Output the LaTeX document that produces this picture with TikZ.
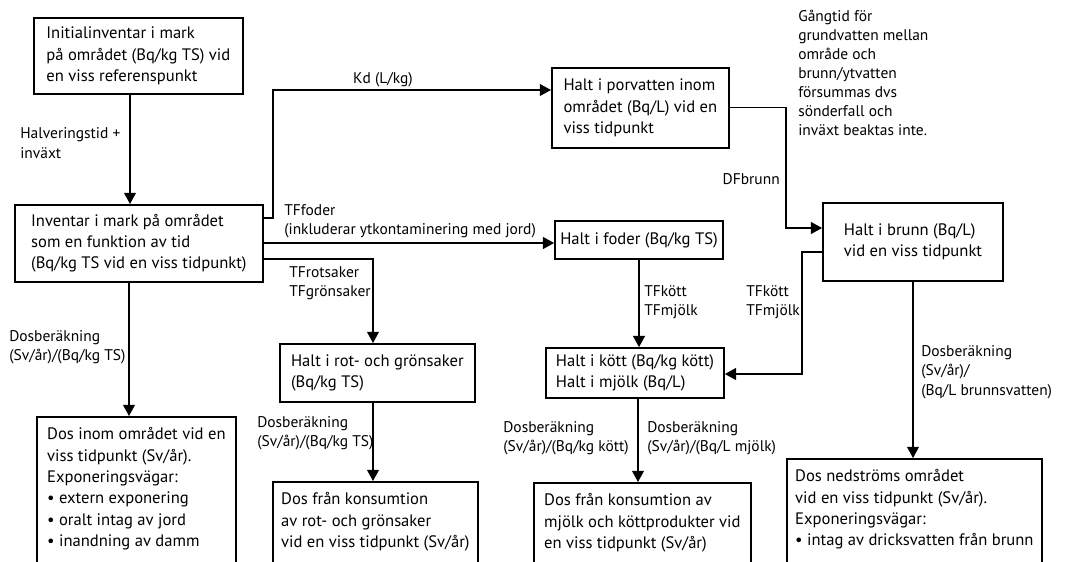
\documentclass[tikz,border=0pt]{standalone}
\usepackage{fontspec}
\setmainfont{PT Sans}
\usetikzlibrary{arrows.meta}
\begin{document}
\begin{tikzpicture}[x=0.025cm,y=-0.025cm,
  bx/.style={draw, line width=1.2pt, align=left, inner xsep=2pt, inner ysep=0pt, font=\fontsize{11.8}{15.2}\selectfont},
  tb/.style={bx, anchor=north west, inner ysep=0.27cm},
  lbl/.style={align=left, inner sep=0pt, font=\fontsize{11}{13.8}\selectfont},
  arr/.style={line width=0.9pt, -{Triangle[length=8pt,width=8.5pt]}},
  ln/.style={line width=0.9pt}]
\useasboundingbox (0,0) rectangle (1074,561);
\clip (0,0) rectangle (1074,561);
% boxes
\node[bx, anchor=north west, minimum width=5.225cm, minimum height=1.9cm] (A) at (33,17)
  {Initialinventar i mark\\på området (Bq/kg TS) vid\\en viss referenspunkt};
\node[bx, anchor=north west, minimum width=6.2cm, minimum height=1.925cm] (B) at (14,204)
  {Inventar i mark på området\\som en funktion av tid\\(Bq/kg TS vid en viss tidpunkt)};
\node[bx, anchor=north west, minimum width=4.425cm, minimum height=2.0cm] (C) at (551,67)
  {Halt i porvatten inom\\området (Bq/L) vid en\\viss tidpunkt};
\node[bx, minimum width=4.5cm, minimum height=1.95cm] (D) at (913,242)
  {Halt i brunn (Bq/L)\\vid en viss tidpunkt};
\node[bx, minimum width=4.2cm, minimum height=0.95cm] (E) at (639,240)
  {Halt i foder (Bq/kg TS)};
\node[bx, anchor=north west, minimum width=4.875cm, minimum height=1.45cm] (F) at (279,343)
  {Halt i rot- och grönsaker\\(Bq/kg TS)};
\node[bx, minimum width=4.45cm, minimum height=1.25cm] (I) at (635,373)
  {Halt i kött (Bq/kg kött)\\Halt i mjölk (Bq/L)};
\node[tb, minimum width=4.975cm] (H) at (36,416)
  {Dos inom området vid en\\viss tidpunkt (Sv/år).\\Exponeringsvägar:\\• extern exponering\\• oralt intag av jord\\• inandning av damm\\\rule{0pt}{1.5cm}};
\node[tb, minimum width=5.125cm] (G) at (272,481)
  {Dos från konsumtion\\av rot- och grönsaker\\vid en viss tidpunkt (Sv/år)\\\rule{0pt}{1.5cm}};
\node[tb, minimum width=5.425cm] (J) at (533,482)
  {Dos från konsumtion av\\mjölk och köttprodukter vid\\en viss tidpunkt (Sv/år)\\\rule{0pt}{1.5cm}};
\node[tb, minimum width=6.375cm] (K) at (786,458)
  {Dos nedströms området\\vid en viss tidpunkt (Sv/år).\\Exponeringsvägar:\\• intag av dricksvatten från brunn\\\rule{0pt}{1.5cm}};
% helper coordinates
\coordinate (xa) at (130,0);
\coordinate (xh) at (129,0);
\coordinate (k1) at (273,218);
\coordinate (k2) at (273,90);
\coordinate (d1) at (786,228);
\coordinate (r1) at (373,259);
\coordinate (m1) at (802,252);
\coordinate (m2) at (802,374);
\coordinate (xj) at (638,0);
% connectors
\draw[arr] (A.south -| xa) -- (B.north -| xa);
\draw[arr] (B.east |- k1) -- (k1) -- (k2) -- (C.west |- k2);
\draw[arr] (C.east) -| (d1) -- (D.west |- d1);
\draw[arr] (B.east |- 0,243) -- (E.west |- 0,243);
\draw[arr] (B.east |- r1) -- (r1) -- (F.north -| r1);
\draw[arr] (F.south -| r1) -- (G.north -| r1);
\draw[arr] (B.south -| xh) -- (H.north -| xh);
\draw[arr] (E.south) -- (E.south |- I.north);
\draw[arr] (D.west |- m1) -- (m1) -- (m2) -- (I.east |- m2);
\draw[arr] (I.south -| xj) -- (J.north -| xj);
\draw[arr] (D.south) -- (D.south |- K.north);
% labels
\node[lbl, anchor=west] (l1) at (20,143) {Halveringstid +\\inväxt};
\node[lbl] (l2) at (383,80) {Kd (L/kg)};
\node[lbl, anchor=west] (l3) at (284,221) {TFfoder\\(inkluderar ytkontaminering med jord)};
\node[lbl, anchor=west] (l4) at (289,283) {TFrotsaker\\TFgrönsaker};
\node[lbl, anchor=east] (l5) at (780,179) {DFbrunn};
\node[lbl, anchor=west, font=\fontsize{11}{13.5}\selectfont] (l6) at (798,73)
  {Gångtid för\\grundvatten mellan\\område och\\brunn/ytvatten\\försummas dvs\\sönderfall och\\inväxt beaktas inte.};
\node[lbl, anchor=west] (l7) at (9,347) {Dosberäkning\\(Sv/år)/(Bq/kg TS)};
\node[lbl, anchor=west] (l8) at (257,433) {Dosberäkning\\(Sv/år)/(Bq/kg TS)};
\node[lbl, anchor=west] (l9) at (644,302) {TFkött\\TFmjölk};
\node[lbl, anchor=west] (l10) at (746,302) {TFkött\\TFmjölk};
\node[lbl, anchor=east] (l11) at (629,438) {Dosberäkning\\(Sv/år)/(Bq/kg kött)};
\node[lbl, anchor=west] (l12) at (647,438) {Dosberäkning\\(Sv/år)/(Bq/L mjölk)};
\node[lbl, anchor=west] (l13) at (921,372) {Dosberäkning\\(Sv/år)/\\(Bq/L brunnsvatten)};
\end{tikzpicture}
\end{document}
